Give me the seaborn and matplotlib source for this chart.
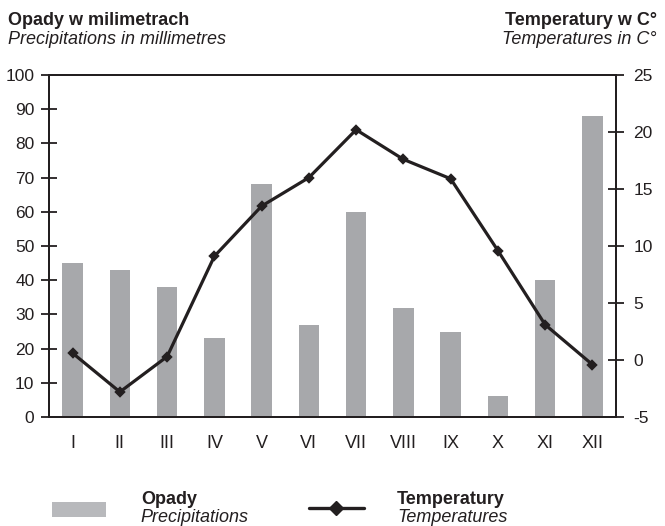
import matplotlib
matplotlib.use("Agg")
import matplotlib.pyplot as plt
import seaborn as sns
import pandas as pd
from matplotlib.patches import Rectangle
from matplotlib.lines import Line2D

months = ["I", "II", "III", "IV", "V", "VI", "VII", "VIII", "IX", "X", "XI", "XII"]
precip = [45, 43, 38, 23, 68, 27, 60, 32, 25, 6, 40, 88]
temp = [0.6, -2.8, 0.3, 9.1, 13.5, 16.0, 20.2, 17.6, 15.9, 9.6, 3.1, -0.4]
left_ticks = [0, 10, 20, 30, 40, 50, 60, 70, 80, 90, 100]
right_ticks = [-5, 0, 5, 10, 15, 20, 25]

sns.set_style("white")
plt.rcParams["font.family"] = ["Liberation Sans", "DejaVu Sans"]
plt.rcParams["axes.unicode_minus"] = False

df = pd.DataFrame({"month": months, "precip": precip, "temp": temp})
ink = "#231f20"
bar_col = "#a7a8ab"

W, H = 665, 526
fig = plt.figure(figsize=(W / 100, H / 100), dpi=100)
ax = fig.add_axes([49 / W, 1 - 417 / H, (616 - 49) / W, (417 - 75) / H])
sns.barplot(data=df, x="month", y="precip", ax=ax, color=bar_col, width=0.43,
            saturation=1, edgecolor="none")
ax2 = ax.twinx()
sns.pointplot(data=df, x="month", y="temp", ax=ax2, color=ink, markers="D",
              markersize=4.5, linewidth=2.3)

for a in (ax, ax2):
    a.set_xlim(-0.5, 11.5)
    a.set_xlabel("")
    a.set_ylabel("")
    a.grid(False)
    for s in a.spines.values():
        s.set_color(ink)
        s.set_linewidth(1.4)

ax.set_ylim(0, 100)
ax.set_yticks(left_ticks)
ax2.set_ylim(-5, 25)
ax2.set_yticks(right_ticks)

ax.set_xticks(range(12))
ax.set_xticklabels(months)
ax.set_xticks([i - 0.5 for i in range(13)], minor=True)
ax.tick_params(axis="x", which="major", length=0, pad=13, labelsize=13, colors=ink)
ax.tick_params(axis="x", which="minor", length=11, width=1.3, direction="inout", color=ink)
ax.tick_params(axis="y", length=11, width=1.3, direction="inout", labelsize=12.5, colors=ink, pad=5)
ax2.tick_params(axis="y", length=11, width=1.3, direction="inout", labelsize=12.5, colors=ink, pad=7)
ax2.tick_params(axis="x", length=0)

# titles
fs = 13
fig.text(8 / W, 1 - 25 / H, "Opady w milimetrach", fontsize=fs, fontweight="bold", color=ink, va="baseline")
fig.text(8 / W, 1 - 43.5 / H, "Precipitations in millimetres", fontsize=fs, style="italic", color=ink, va="baseline")
fig.text(657 / W, 1 - 25 / H, "Temperatury w C°", fontsize=fs, fontweight="bold", color=ink, va="baseline", ha="right")
fig.text(657 / W, 1 - 43.5 / H, "Temperatures in C°", fontsize=fs, style="italic", color=ink, va="baseline", ha="right")

# legend
fig.patches.append(Rectangle((52 / W, 1 - 517 / H), 54 / W, 15 / H, transform=fig.transFigure,
                             facecolor="#b8b9bc", edgecolor="none"))
fig.text(141 / W, 1 - 504 / H, "Opady", fontsize=fs, fontweight="bold", color=ink, va="baseline")
fig.text(140 / W, 1 - 522 / H, "Precipitations", fontsize=fs, style="italic", color=ink, va="baseline")
fig.lines.append(Line2D([309 / W, 364 / W], [1 - 508 / H, 1 - 508 / H], transform=fig.transFigure,
                        color=ink, linewidth=2.4))
fig.lines.append(Line2D([336 / W], [1 - 508 / H], transform=fig.transFigure,
                        color=ink, marker="D", markersize=7, linestyle="none"))
fig.text(397 / W, 1 - 504 / H, "Temperatury", fontsize=fs, fontweight="bold", color=ink, va="baseline")
fig.text(397 / W, 1 - 522 / H, "Temperatures", fontsize=fs, style="italic", color=ink, va="baseline")

fig.savefig("out.png", dpi=100)
